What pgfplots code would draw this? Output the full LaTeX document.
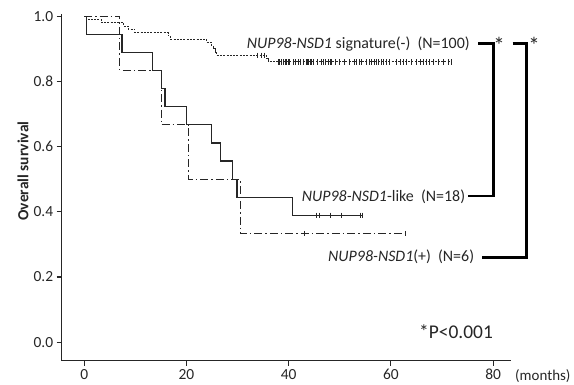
\documentclass[border=0pt]{standalone}
\usepackage{fontspec}
\setmainfont{Carlito}
\usepackage{pgfplots}
\pgfplotsset{compat=1.18}
\definecolor{ln}{HTML}{262626}
\begin{document}
\begin{tikzpicture}[x=1bp,y=1bp]
\begin{axis}[
  at={(61.7bp,23.3bp)}, anchor=south west,
  scale only axis, width=449.3bp, height=346.7bp,
  xmin=-4.4, xmax=83.5, ymin=-0.057, ymax=1.007,
  axis lines=left, axis line style={-, line width=1.2bp, color=ln},
  xtick={0,20,40,60,80}, ytick={0,0.2,0.4,0.6,0.8,1.0},
  tick align=outside, major tick length=5bp,
  tick style={line width=1.1bp, color=ln},
  tick label style={font=\fontsize{15.5}{17}\selectfont, text=ln},
  /pgf/number format/assume math mode=true,
  yticklabel style={/pgf/number format/.cd, fixed, fixed zerofill, precision=1},
  clip=false,
]
% NUP98-NSD1 signature(-)
\addplot[const plot, line width=1.0bp, color=ln, dash pattern=on 2bp off 1.3bp] coordinates {
(0,1.00) (0.8,0.99) (3.4,0.98) (7.7,0.97) (8.6,0.96) (9.9,0.95) (16.4,0.94) (16.8,0.93)
(23.9,0.92) (24.9,0.91) (25.2,0.90) (25.6,0.89) (25.9,0.88) (35.7,0.87) (36.0,0.86) (71.9,0.86)};
\addplot[only marks, mark=|, mark size=2.8bp, mark options={line width=1bp}, color=ln] coordinates {
(34.0,0.88) (34.6,0.88) (35.2,0.88)
(37.97,0.86) (38.3,0.86) (38.6,0.86) (38.95,0.86) (39.3,0.86) (39.6,0.86) (39.9,0.86) (40.25,0.86)
(40.9,0.86) (41.4,0.86) (41.9,0.86) (42.3,0.86) (42.9,0.86) (43.4,0.86) (43.6,0.86) (43.9,0.86)
(44.2,0.86) (44.5,0.86) (44.8,0.86) (45.6,0.86) (46.45,0.86) (46.9,0.86) (47.3,0.86) (47.75,0.86)
(48.1,0.86) (48.4,0.86) (49.1,0.86) (50.0,0.86) (51.0,0.86) (52.0,0.86) (52.8,0.86) (53.3,0.86)
(53.95,0.86) (54.3,0.86) (55.3,0.86) (55.8,0.86) (56.2,0.86) (56.7,0.86) (57.2,0.86) (57.5,0.86)
(58.2,0.86) (58.6,0.86) (59.2,0.86) (59.8,0.86) (61.1,0.86) (61.8,0.86) (62.4,0.86) (63.1,0.86)
(64.1,0.86) (65.0,0.86) (65.7,0.86) (66.3,0.86) (67.0,0.86) (67.6,0.86) (68.3,0.86) (69.3,0.86)
(70.3,0.86) (71.2,0.86) (71.9,0.86)};
% NUP98-NSD1-like
\addplot[const plot, line width=1.1bp, color=ln] coordinates {
(0,1) (0.4,0.944) (7.4,0.889) (13.4,0.833) (15.1,0.778) (15.8,0.722) (20.0,0.667)
(24.9,0.611) (26.6,0.556) (29.1,0.5) (29.9,0.444) (40.7,0.389) (54.4,0.389)};
\addplot[only marks, mark=|, mark size=2.8bp, mark options={line width=0.9bp}, color=ln] coordinates {
(45.5,0.389) (46.1,0.389) (48.1,0.389) (50.4,0.389) (54.0,0.389) (54.4,0.389)};
% NUP98-NSD1(+)
\addplot[const plot, line width=1.0bp, color=ln, dash pattern=on 8bp off 3bp on 1.5bp off 3bp] coordinates {
(0,1) (7.0,0.833) (15.1,0.667) (20.5,0.5) (30.5,0.333) (62.8,0.333)};
\addplot[only marks, mark=|, mark size=2.8bp, mark options={line width=0.9bp}, color=ln] coordinates {
(43.0,0.333) (62.8,0.333)};
\end{axis}
% labels
\node[anchor=west, inner sep=0pt, text=ln, font=\fontsize{16}{18}\selectfont] at (246.7,340) {\textit{NUP98-NSD1} signature(-)\hspace{0.45em}(N=100)};
\node[anchor=west, inner sep=0pt, text=ln, font=\fontsize{16}{18}\selectfont] at (301.7,187.3) {\textit{NUP98-NSD1}-like\hspace{0.45em}(N=18)};
\node[anchor=west, inner sep=0pt, text=ln, font=\fontsize{16}{18}\selectfont] at (328,127) {\textit{NUP98-NSD1}(+)\hspace{0.45em}(N=6)};
\node[anchor=center, inner sep=0pt, text=ln, font=\fontsize{19.5}{21}\selectfont] at (456,52) {*P<0.001};
\node[anchor=base west, inner sep=0pt, text=ln, font=\fontsize{15}{17}\selectfont] at (515,4) {(months)};
\node[rotate=90, anchor=center, inner sep=0pt, text=ln, font=\bfseries\fontsize{15.5}{17}\selectfont] at (23,213) {Overall survival};
% brackets
\draw[line width=2.6bp, color=black, line join=miter] (478,340.7) -- (493.3,340.7) -- (493.3,188) -- (468,188);
\draw[line width=2.6bp, color=black, line join=miter] (512.7,340.7) -- (526.7,340.7) -- (526.7,126.7) -- (481.7,126.7);
\node[inner sep=0pt, text=ln, font=\fontsize{23}{25}\selectfont] at (499,339) {*};
\node[inner sep=0pt, text=ln, font=\fontsize{23}{25}\selectfont] at (534,339) {*};
\pgfresetboundingbox
\path[use as bounding box] (0,0) rectangle (574,384);
\end{tikzpicture}
\end{document}
